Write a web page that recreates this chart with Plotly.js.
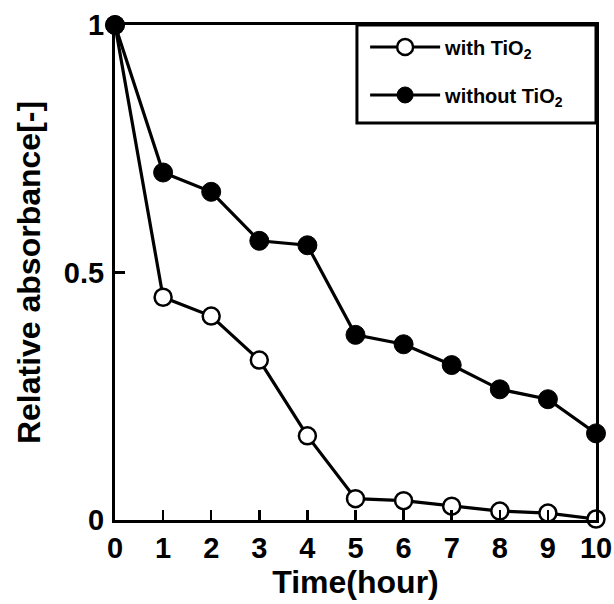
<!DOCTYPE html>
<html>
<head>
<meta charset="utf-8">
<script src="https://cdn.plot.ly/plotly-3.0.1.min.js"></script>
<style>html,body{margin:0;padding:0;background:#fff;}#chart{width:614px;height:604px;}</style>
</head>
<body>
<div id="chart"></div>
<script>
var timeHours = [0, 1, 2, 3, 4, 5, 6, 7, 8, 9, 10];
var withTiO2 = [1.0, 0.45, 0.412, 0.323, 0.17, 0.043, 0.039, 0.028, 0.018, 0.014, 0.002];
var withoutTiO2 = [1.0, 0.702, 0.663, 0.564, 0.555, 0.374, 0.355, 0.313, 0.264, 0.244, 0.175];
var seriesNames = ['with TiO<sub>2</sub>', 'without TiO<sub>2</sub>'];
var xTickVals = [0, 1, 2, 3, 4, 5, 6, 7, 8, 9, 10];
var xTickText = ['0', '1', '2', '3', '4', '5', '6', '7', '8', '9', '10'];
var yTickVals = [0, 0.5, 1];
var yTickText = ['0', '0.5', '1'];

var FONT = '"Liberation Sans", Arial, sans-serif';

var traces = [
  {
    x: timeHours, y: withTiO2, name: seriesNames[0], type: 'scatter', mode: 'lines+markers',
    legendgroup: 'a',
    line: {color: '#000', width: 3.2},
    marker: {symbol: 'circle', size: 17, color: '#fff', line: {color: '#000', width: 2.5}},
    cliponaxis: false
  },
  {
    x: timeHours, y: withoutTiO2, name: seriesNames[1], type: 'scatter', mode: 'lines+markers',
    legendgroup: 'b',
    line: {color: '#000', width: 3.2},
    marker: {symbol: 'circle', size: 19, color: '#000', line: {color: '#000', width: 1}},
    cliponaxis: false
  }
];

var layout = {
  width: 614, height: 604,
  paper_bgcolor: '#fff', plot_bgcolor: '#fff',
  margin: {l: 115, r: 18, t: 25, b: 84},
  showlegend: true,
  legend: {
    x: 0.52, xanchor: 'left', y: 0.995, yanchor: 'top',
    borderwidth: 0, bgcolor: 'rgba(0,0,0,0)',
    font: {family: FONT, size: 20, color: '#000', weight: 'bold'},
    itemwidth: 70, tracegroupgap: 19, traceorder: 'grouped'
  },
  shapes: [
    {type: 'rect', xref: 'paper', yref: 'paper', x0: 0.503, x1: 1, y0: 0.802, y1: 1,
     line: {color: '#000', width: 3}, fillcolor: '#fff', layer: 'above'}
  ],
  xaxis: {
    range: [0, 10], tickmode: 'array', tickvals: xTickVals, ticktext: xTickText,
    ticks: 'inside', ticklen: 10, tickwidth: 2.5, tickcolor: '#000',
    showline: true, linecolor: '#000', linewidth: 3, mirror: true,
    showgrid: false, zeroline: false,
    tickfont: {family: FONT, size: 29, color: '#000', weight: 'bold'},
    title: {text: 'Time(hour)', font: {family: FONT, size: 32, color: '#000', weight: 'bold'}, standoff: 4}
  },
  yaxis: {
    range: [0, 1], tickmode: 'array', tickvals: yTickVals, ticktext: yTickText,
    ticks: 'inside', ticklen: 10, tickwidth: 2.5, tickcolor: '#000',
    showline: true, linecolor: '#000', linewidth: 3, mirror: true,
    showgrid: false, zeroline: false, ticklabelstandoff: 2,
    tickfont: {family: FONT, size: 29, color: '#000', weight: 'bold'},
    title: {text: 'Relative absorbance[-]', font: {family: FONT, size: 32, color: '#000', weight: 'bold'}, standoff: 14}
  }
};

Plotly.newPlot('chart', traces, layout, {displayModeBar: false, staticPlot: true});
</script>
</body>
</html>
